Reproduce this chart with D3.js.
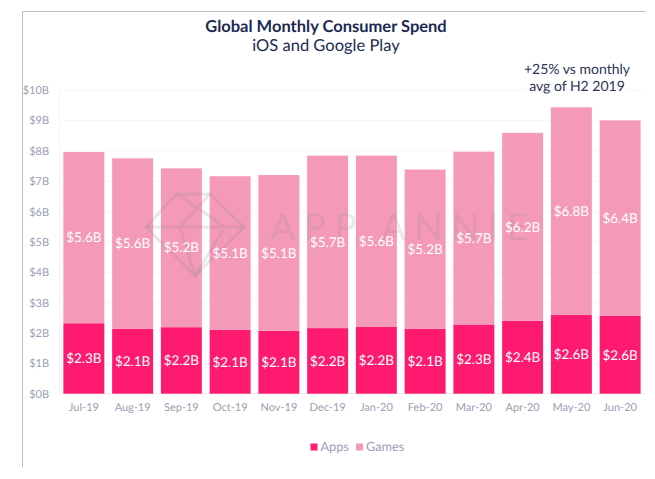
<!DOCTYPE html>
<html>
<head>
<meta charset="utf-8">
<script src="https://cdn.jsdelivr.net/npm/d3@7"></script>
<style>
html, body { margin: 0; padding: 0; background: #fff; }
text { font-family: Lato, "Open Sans", sans-serif; text-rendering: geometricPrecision; }
</style>
</head>
<body>
<script>
// values, $B
var months = ["Jul-19","Aug-19","Sep-19","Oct-19","Nov-19","Dec-19","Jan-20","Feb-20","Mar-20","Apr-20","May-20","Jun-20"];
var apps = [2.32,2.14,2.19,2.10,2.07,2.16,2.21,2.14,2.28,2.40,2.59,2.56];
var games = [5.64,5.61,5.23,5.06,5.13,5.68,5.63,5.24,5.69,6.19,6.84,6.44];
var yTicks = [0,1,2,3,4,5,6,7,8,9,10];
var seriesNames = ["Apps","Games"];
var seriesColors = ["#fe1a6f","#f599b8"];

var width = 655, height = 479;
var svg = d3.select("body").append("svg").attr("width", width).attr("height", height).style("display", "block");

var x = d3.scaleBand().domain(months).range([59.5, 644.5]).paddingInner(0.16).paddingOuter(0.08);
var y = d3.scaleLinear().domain([0, 10]).range([393.7, 90]);
var color = d3.scaleOrdinal().domain(seriesNames).range(seriesColors);

// frame of the screenshot
svg.append("path").attr("d", "M22.5,467V11.5H646").attr("fill", "none").attr("stroke", "#bcbcbc").attr("stroke-width", 1);

// gridlines
svg.append("g").selectAll("line").data(yTicks).enter().append("line")
    .attr("x1", 59.5).attr("x2", 645)
    .attr("y1", function(d) { return y(d); })
    .attr("y2", function(d) { return y(d); })
    .attr("stroke", function(d) { return d == 0 ? "#e9ebf1" : "#f6f6f8"; });
svg.append("line").attr("x1", 59.5).attr("x2", 59.5).attr("y1", y(10)).attr("y2", y(0)).attr("stroke", "#f3f3f6");

// axes
var yAxis = d3.axisLeft(y).tickValues(yTicks).tickSize(0).tickPadding(0).tickFormat(function(d) { return "$" + d + "B"; });
var gy = svg.append("g").attr("transform", "translate(49,0)").call(yAxis);
gy.select(".domain").remove();
gy.selectAll("text").attr("fill", "#99a0b3").style("font-size", "11px").style("font-family", "Lato");

var xAxis = d3.axisBottom(x).tickSize(0).tickPadding(0);
var gx = svg.append("g").attr("transform", "translate(0,403.5)").call(xAxis);
gx.select(".domain").remove();
gx.selectAll("text").attr("fill", "#99a0b3").style("font-size", "11px").style("font-family", "Lato");

// stacked bars
var rows = months.map(function(m, i) { return {month: m, Apps: apps[i], Games: games[i]}; });
var stacked = d3.stack().keys(seriesNames)(rows);

var layer = svg.append("g").selectAll("g").data(stacked).enter().append("g")
    .attr("fill", function(d) { return color(d.key); });
layer.selectAll("rect").data(function(d) { return d; }).enter().append("rect")
    .attr("x", function(d) { return x(d.data.month); })
    .attr("width", x.bandwidth())
    .attr("y", function(d) { return y(d[1]); })
    .attr("height", function(d) { return y(d[0]) - y(d[1]); });

// watermark sits over the bars
var mark = svg.append("g").attr("fill", "none").attr("stroke", "#8e8e99").attr("stroke-opacity", 0.2).attr("stroke-width", 3);
mark.append("path").attr("d", "M146,227 L177,194 L210,194 L244,227 L195,276 Z");
mark.append("path").attr("d", "M146,227 H244 M177,194 L225,227 L195,276 L180,227 L210,194");
svg.append("text").attr("x", 270).attr("y", 240).text("APP ANNIE")
    .attr("fill", "#8e8e99").attr("fill-opacity", 0.2)
    .style("font-size", "37px").style("letter-spacing", "8.5px");

// value labels
var labels = svg.append("g").selectAll("g").data(stacked).enter().append("g");
labels.selectAll("text").data(function(d) { return d; }).enter().append("text")
    .attr("x", function(d) { return x(d.data.month) + x.bandwidth() / 2; })
    .attr("y", function(d) { return (y(d[0]) + y(d[1])) / 2; })
    .attr("dy", ".35em")
    .attr("text-anchor", "middle")
    .attr("fill", "#fff")
    .style("font-size", "13.5px")
    .text(function(d) { return "$" + (d[1] - d[0]).toFixed(1) + "B"; });

// titles
svg.append("text").attr("x", 326).attr("y", 31.5).attr("text-anchor", "middle")
    .attr("fill", "#1c2a53").style("font-size", "16.5px").style("font-weight", "700")
    .text("Global Monthly Consumer Spend");
svg.append("text").attr("x", 326).attr("y", 51).attr("text-anchor", "middle")
    .attr("fill", "#1c2a53").style("font-size", "16.5px")
    .text("iOS and Google Play");

// note above the peak
svg.append("text").attr("x", 577).attr("y", 74).attr("text-anchor", "middle")
    .attr("fill", "#2b3656").style("font-size", "14px").text("+25% vs monthly");
svg.append("text").attr("x", 577).attr("y", 91).attr("text-anchor", "middle")
    .attr("fill", "#2b3656").style("font-size", "14px").text("avg of H2 2019");

// legend
var legend = svg.append("g").selectAll("g").data(seriesNames).enter().append("g")
    .attr("transform", function(d, i) { return "translate(" + [310.5, 356][i] + ",447)"; });
legend.append("rect").attr("y", -3.5).attr("width", 7).attr("height", 7)
    .attr("fill", function(d) { return color(d); });
legend.append("text").attr("x", 10).attr("dy", ".35em")
    .attr("fill", "#99a0b3").style("font-size", "12.7px")
    .text(function(d) { return d; });
</script>
</body>
</html>
